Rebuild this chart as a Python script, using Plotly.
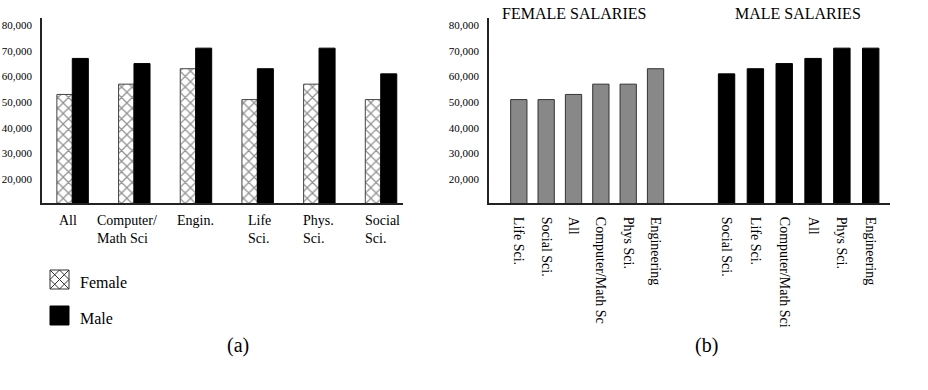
import plotly.graph_objects as go

# ---------------- data ----------------
categories_a = ["All", "Computer/<br>Math Sci", "Engin.", "Life<br>Sci.", "Phys.<br>Sci.", "Social<br>Sci."]
female_a = [53000, 57000, 63000, 51000, 57000, 51000]
male_a = [67000, 65000, 71000, 63000, 71000, 61000]

female_cats_b = ["Life Sci.", "Social Sci.", "All", "Computer/Math Sc", "Phys Sci.", "Engineering"]
female_vals_b = [51000, 51000, 53000, 57000, 57000, 63000]
male_cats_b = ["Social Sci.", "Life Sci.", "Computer/Math Sci", "All", "Phys Sci.", "Engineering"]
male_vals_b = [61000, 63000, 65000, 67000, 71000, 71000]

y_ticks = [20000, 30000, 40000, 50000, 60000, 70000, 80000]

# ---------------- layout helpers ----------------
W, H = 928, 390
FONT = "Liberation Serif, Times New Roman, DejaVu Serif, serif"
label_shift_a = [-4, -7, 0, 2, -1, 2]  # small horizontal nudges of the (a) labels


def fx(px):
    return px / W


def fy(py):
    return 1 - py / H


idx_a = list(range(len(categories_a)))

fig = go.Figure()

# (a) grouped bars
fig.add_trace(go.Bar(
    x=idx_a, y=female_a, name="Female", xaxis="x", yaxis="y",
    width=0.25, offset=-0.25,
    marker=dict(color="white", line=dict(color="#444444", width=1),
                pattern=dict(shape="x", size=7.5, solidity=0.3, fgcolor="#222222", bgcolor="white")),
    showlegend=False,
))
fig.add_trace(go.Bar(
    x=idx_a, y=male_a, name="Male", xaxis="x", yaxis="y",
    width=0.26, offset=0,
    marker=dict(color="black", line=dict(color="black", width=1)),
    showlegend=False,
))

# (b) sorted bars
fig.add_trace(go.Bar(
    x=female_cats_b, y=female_vals_b, name="Female", xaxis="x2", yaxis="y2",
    width=0.596,
    marker=dict(color="#888888", line=dict(color="#333333", width=1)),
    showlegend=False,
))
fig.add_trace(go.Bar(
    x=male_cats_b, y=male_vals_b, name="Male", xaxis="x3", yaxis="y2",
    width=0.569,
    marker=dict(color="black", line=dict(color="black", width=1)),
    showlegend=False,
))

y_dom = [fy(203.3), fy(18)]
y_range = [10668, 82722]
axis_line = dict(showline=True, linecolor="#222222", linewidth=1.5, showgrid=False, zeroline=False)
ytick_common = dict(tickvals=y_ticks, tickformat=",.0f", ticks="", ticklabelstandoff=6,
                    tickfont=dict(family=FONT, size=11, color="black"))

M = 690.75
fig.update_layout(
    width=W, height=H,
    margin=dict(l=0, r=0, t=0, b=0),
    paper_bgcolor="white", plot_bgcolor="white",
    barmode="overlay",
    font=dict(family=FONT, color="black"),
    xaxis=dict(domain=[fx(42), fx(403)], range=[-0.491, 5.361], anchor="y",
               showticklabels=False, ticks="", **axis_line),
    yaxis=dict(domain=y_dom, range=y_range, anchor="x", **ytick_common, **axis_line),
    xaxis2=dict(domain=[fx(489), fx(M)], range=[-1.09, 6.287], anchor="y2", type="category",
                tickangle=90, ticks="", ticklabelstandoff=9,
                tickfont=dict(family=FONT, size=14, color="black"), **axis_line),
    xaxis3=dict(domain=[fx(M), fx(890)], range=[-1.242, 5.669], anchor="y2", type="category",
                tickangle=90, ticks="", ticklabelstandoff=9,
                tickfont=dict(family=FONT, size=14, color="black"), **axis_line),
    yaxis2=dict(domain=y_dom, range=y_range, anchor="x2", **ytick_common, **axis_line),
)

annotations = []
# category labels for (a), left-aligned multi-line
for i, lab in enumerate(categories_a):
    annotations.append(dict(
        x=i, y=fy(211), xref="x", yref="paper", text=lab, showarrow=False,
        xanchor="center", yanchor="top", align="left", xshift=label_shift_a[i],
        font=dict(family=FONT, size=14, color="black"),
    ))

# legend (a)
legend_items = [("Female", 270), ("Male", 306)]
for name, top in legend_items:
    annotations.append(dict(
        x=fx(78), y=fy(top + 12), xref="paper", yref="paper", text=name, showarrow=False,
        xanchor="left", yanchor="middle", font=dict(family=FONT, size=16, color="black"),
    ))

# titles
annotations.append(dict(x=fx(573.5), y=fy(13.5), xref="paper", yref="paper", text="FEMALE SALARIES",
                        showarrow=False, xanchor="center", yanchor="middle",
                        font=dict(family=FONT, size=16, color="black")))
annotations.append(dict(x=fx(798), y=fy(13.5), xref="paper", yref="paper", text="MALE SALARIES",
                        showarrow=False, xanchor="center", yanchor="middle",
                        font=dict(family=FONT, size=16, color="black")))
annotations.append(dict(x=fx(238.5), y=fy(345), xref="paper", yref="paper", text="(a)",
                        showarrow=False, xanchor="center", yanchor="middle",
                        font=dict(family=FONT, size=20, color="black")))
annotations.append(dict(x=fx(706), y=fy(345), xref="paper", yref="paper", text="(b)",
                        showarrow=False, xanchor="center", yanchor="middle",
                        font=dict(family=FONT, size=20, color="black")))

shapes = []
# female legend swatch with crosshatch
x0, y0, s = 50, 270, 19
shapes.append(dict(type="rect", xref="paper", yref="paper",
                   x0=fx(x0), x1=fx(x0 + s), y0=fy(y0 + s), y1=fy(y0),
                   fillcolor="white", line=dict(color="#333333", width=1)))
for c in (-s / 2, 0, s / 2):
    xa, xb = max(0, -c), min(s, s - c)
    shapes.append(dict(type="line", xref="paper", yref="paper",
                       x0=fx(x0 + xa), y0=fy(y0 + xa + c), x1=fx(x0 + xb), y1=fy(y0 + xb + c),
                       line=dict(color="#333333", width=1)))
for c in (s / 2, s, 3 * s / 2):
    xa, xb = max(0, c - s), min(s, c)
    shapes.append(dict(type="line", xref="paper", yref="paper",
                       x0=fx(x0 + xa), y0=fy(y0 + c - xa), x1=fx(x0 + xb), y1=fy(y0 + c - xb),
                       line=dict(color="#333333", width=1)))
# male legend swatch
shapes.append(dict(type="rect", xref="paper", yref="paper",
                   x0=fx(50), x1=fx(69), y0=fy(325), y1=fy(306),
                   fillcolor="black", line=dict(color="black", width=1)))

fig.update_layout(annotations=annotations, shapes=shapes)

fig.write_html("out.html")
